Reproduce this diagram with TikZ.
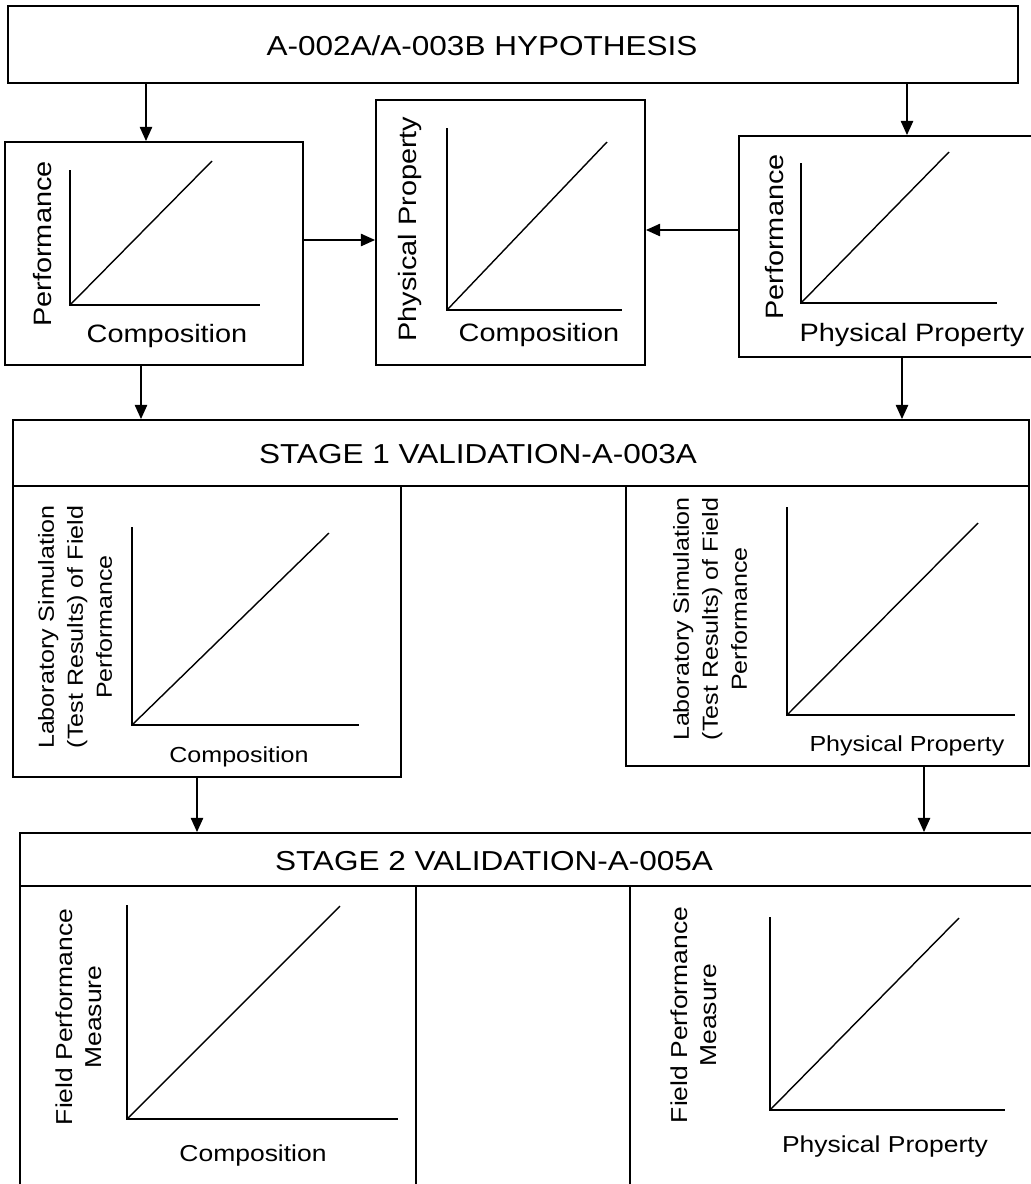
\documentclass[tikz,border=0pt]{standalone}
\usepackage{fontspec}
\setmainfont{Liberation Sans}[FakeStretch=1.15]
\usetikzlibrary{arrows.meta}

\tikzset{
  box/.style={draw, line width=1.1pt, inner sep=0pt},
  sized/.style 2 args={minimum width=#1*0.02cm, minimum height=#2*0.02cm},
  arr/.style={-{Triangle[width=7pt,length=8pt]}, line width=0.8pt},
  axisline/.style={line width=1.1pt},
  trendline/.style={line width=0.8pt},
  head/.style={inner sep=0pt, font=\fontsize{15.6}{18}\selectfont},
  lbltop/.style={inner sep=0pt, font=\fontsize{14.3}{17}\selectfont},
  lblone/.style={inner sep=0pt, align=center, font=\fontsize{12.4}{16.5}\selectfont},
  lbltwo/.style={inner sep=0pt, align=center, font=\fontsize{13.1}{16.5}\selectfont}
}

\begin{document}
\begin{tikzpicture}[x=0.02cm, y=-0.02cm]
    \useasboundingbox (0,0) rectangle (1031,1184);

    % Hypothesis row
    \node[box, sized={1010}{77}] (hyp) at (513,44.5) {};
    \node[head] (hyp-title) at (482,46) {A-002A/A-003B HYPOTHESIS};
    \node[box, sized={298}{223}] (perfcomp) at (154,253.5) {};
    \node[box, sized={269}{265}] (physcomp) at (510.5,232.5) {};
    \node[box, sized={306}{221}] (perfphys) at (892,246.5) {};

    \node[lbltop, rotate=90] (perfcomp-y) at (43,244) {Performance};
    \node[lbltop] (perfcomp-x) at (167,336) {Composition};
    \node[lbltop, rotate=90] (physcomp-y) at (410,229) {Physical Property};
    \node[lbltop] (physcomp-x) at (539,335) {Composition};
    \node[lbltop, rotate=90] (perfphys-y) at (775,237) {Performance};
    \node[lbltop] (perfphys-x) at (912,335) {Physical Property};

    % Stage 1 validation
    \node[box, sized={1016}{66}] (stage1) at (521,453) {};
    \node[head] (stage1-title) at (478,454) {STAGE 1 VALIDATION-A-003A};
    \node[box, sized={388}{291}] (labcomp) at (207,631.5) {};
    \node[box, sized={403}{280}] (labphys) at (827.5,626) {};

    \node[lblone, rotate=90] (labcomp-y) at (75,627) {Laboratory Simulation\\(Test Results) of Field\\Performance};
    \node[lblone] (labcomp-x) at (239,757) {Composition};
    \node[lblone, rotate=90] (labphys-y) at (710,619) {Laboratory Simulation\\(Test Results) of Field\\Performance};
    \node[lblone] (labphys-x) at (907,746) {Physical Property};

    % Stage 2 validation
    \node[box, sized={1025}{53}] (stage2) at (532.5,859.5) {};
    \node[head] (stage2-title) at (494,861) {STAGE 2 VALIDATION-A-005A};
    \node[box, sized={396}{314}] (fieldcomp) at (218,1043) {};
    \node[box, sized={214}{314}] (fieldgap) at (523,1043) {};
    \node[box, sized={415}{314}] (fieldphys) at (837.5,1043) {};

    \node[lbltwo, rotate=90] (fieldcomp-y) at (79,1017) {Field Performance\\Measure};
    \node[lbltwo] (fieldcomp-x) at (253,1156) {Composition};
    \node[lbltwo, rotate=90] (fieldphys-y) at (694,1015) {Field Performance\\Measure};
    \node[lbltwo] (fieldphys-x) at (885,1147) {Physical Property};

    % little graphs: origin, top of y axis, end of x axis, end of line
    \foreach \ox/\oy/\ty/\ex/\dx/\dy in {70/305/170/260/212/161, 447/310/128/622/607/142,
        801/303/163/997/949/152, 132/725/527/359/329/533, 787/715/507/1015/978/523,
        127/1119/905/398/340/906, 770/1110/917/1005/959/918} {
        \draw[axisline] (\ox,\ty) |- (\ex,\oy);
        \draw[trendline] (\ox,\oy) -- (\dx,\dy);
    }

    % Arrows
    \coordinate (xa) at (146,0);
    \coordinate (xb) at (907,0);
    \coordinate (xc) at (141,0);
    \coordinate (xd) at (902,0);
    \coordinate (xe) at (197,0);
    \coordinate (xf) at (924,0);
    \coordinate (ya) at (0,240);
    \coordinate (yb) at (0,230);
    \draw[arr] (xa |- hyp.south) -- (xa |- perfcomp.north);
    \draw[arr] (xb |- hyp.south) -- (xb |- perfphys.north);
    \draw[arr] (ya -| perfcomp.east) -- (ya -| physcomp.west);
    \draw[arr] (yb -| perfphys.west) -- (yb -| physcomp.east);
    \draw[arr] (xc |- perfcomp.south) -- (xc |- stage1.north);
    \draw[arr] (xd |- perfphys.south) -- (xd |- stage1.north);
    \draw[arr] (xe |- labcomp.south) -- (xe |- stage2.north);
    \draw[arr] (xf |- labphys.south) -- (xf |- stage2.north);
\end{tikzpicture}
\end{document}
